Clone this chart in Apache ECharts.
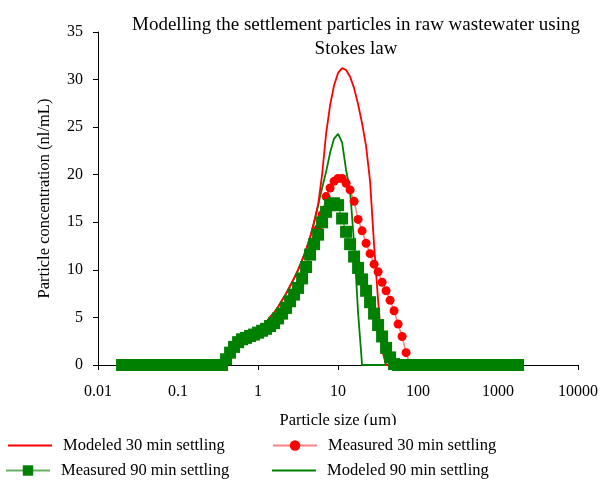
<!DOCTYPE html>
<html>
<head>
<meta charset="utf-8">
<script src="https://cdn.jsdelivr.net/npm/echarts@6/dist/echarts.min.js"></script>
<style>html,body{margin:0;padding:0;background:#fff}#c{width:601px;height:480px}</style>
</head>
<body>
<div id="c"></div>
<script>
// Particle size bins (um)
var sizes = [0.02,0.0224,0.0251,0.0282,0.0317,0.0355,0.0399,0.0448,0.0502,0.0564,
0.0632,0.0710,0.0796,0.0893,0.1002,0.1125,0.1262,0.1416,0.1589,0.1783,
0.2000,0.2244,0.2518,0.2825,0.3170,0.3557,0.3991,0.4477,0.5024,0.5637,
0.6325,0.7096,0.7962,0.8934,1.002,1.125,1.262,1.416,1.589,1.783,
2.000,2.244,2.518,2.825,3.170,3.557,3.991,4.477,5.024,5.637,
6.325,7.096,7.962,8.934,10.02,11.25,12.62,14.16,15.89,17.83,
20.00,22.44,25.18,28.25,31.70,35.57,39.91,44.77,50.24,56.37,
63.25,70.96,79.62,89.34,100.2,112.5,126.2,141.6,158.9,178.3,
200.0,224.4,251.8,282.5,317.0,355.7,399.1,447.7,502.4,563.7,
632.5,709.6,796.2,893.4,1002,1125,1262,1416,1589,1783];

var measured30 = [0,0,0,0,0,0,0,0,0,0, 0,0,0,0,0,0,0,0,0,0, 0,0,0,0,0,0,
0.5,1.1,1.8,2.3,2.6,2.8,3.0,3.2,3.4,3.6,3.8,4.1,4.4,4.9,
5.4,6.0,6.7,7.4,8.2,9.2,10.4,11.7,13.0,14.3,
15.8,17.7,18.6,19.3,19.6,19.6,19.1,18.4,17.2,15.3,
14.1,12.8,11.7,10.6,9.8,8.7,7.8,6.8,5.7,4.3,
3.0,1.3,0,0,0,0,0,0,0,0, 0,0,0,0,0,0,0,0,0,0, 0,0,0,0,0,0,0,0,0,0];

var measured90 = [0,0,0,0,0,0,0,0,0,0, 0,0,0,0,0,0,0,0,0,0, 0,0,0,0,0,0,
0.6,1.3,1.9,2.4,2.7,2.85,3.05,3.2,3.4,3.6,3.8,4.1,4.4,4.9,
5.4,6.0,6.7,7.4,8.1,9.1,10.3,11.6,12.7,13.7,
15.0,16.1,16.8,17.0,16.8,15.4,14.0,12.7,11.4,10.2,
9.0,7.8,6.6,5.4,4.2,3.0,1.8,0.8,0.1,0,
0,0,0,0,0,0,0,0,0,0, 0,0,0,0,0,0,0,0,0,0, 0,0,0,0,0,0,0,0,0,0];

var modeled30 = [0,0,0,0,0,0,0,0,0,0, 0,0,0,0,0,0,0,0,0,0, 0,0,0,0,0,0,
0.6,1.3,1.9,2.3,2.6,2.9,3.1,3.4,3.7,4.1,4.5,5.0,5.5,6.1,
6.8,7.5,8.3,9.1,10.0,11.0,12.1,13.4,15.0,16.8,
20.0,24.3,27.3,29.4,30.7,31.2,31.0,30.3,29.1,27.4,
25.4,23.0,19.3,12.6,6.8,1.6,0,0,0,0,
0,0,0,0,0,0,0,0,0,0, 0,0,0,0,0,0,0,0,0,0, 0,0,0,0,0,0,0,0,0,0];

var modeled90 = [0,0,0,0,0,0,0,0,0,0, 0,0,0,0,0,0,0,0,0,0, 0,0,0,0,0,0,
0.6,1.3,1.9,2.3,2.6,2.9,3.1,3.4,3.7,4.1,4.5,5.0,5.5,6.1,
6.8,7.5,8.3,9.1,10.0,11.0,12.1,13.4,15.0,16.8,
18.6,20.3,22.3,23.8,24.3,23.4,20.5,18.3,12.8,5.5,
0,0,0,0,0,0,0,0,0,0,
0,0,0,0,0,0,0,0,0,0, 0,0,0,0,0,0,0,0,0,0, 0,0,0,0,0,0,0,0,0,0];

var xTickLabels = ['0.01','0.1','1','10','100','1000','10000'];
var yTickLabels = ['0','5','10','15','20','25','30','35'];

var seriesNames = ['Modeled 30 min settling','Measured 30 min settling','Measured 90 min settling','Modeled 90 min settling'];

function pairs(vals){ return sizes.map(function(s,i){ return [s, vals[i]]; }); }

var FONT = "'Liberation Serif','Times New Roman',serif";
var chart = echarts.init(document.getElementById('c'), null, {renderer:'canvas'});

function legendAt(name, left, top, opts){
  var o = {
    data:[name], left:left, top:top, orient:'horizontal', padding:0, z:60,
    itemWidth:44, itemHeight:13, selectedMode:false,
    textStyle:{fontFamily:FONT, fontSize:16.5, color:'#000', padding:[0,0,0,6]}
  };
  for (var k in opts) o[k] = opts[k];
  return o;
}

chart.setOption({
  animation:false,
  backgroundColor:'#fff',
  title:{
    text:'Modelling the settlement particles in raw wastewater using\nStokes law',
    left:356, top:13, padding:0, textAlign:'center',
    textStyle:{fontFamily:FONT, fontSize:19, fontWeight:'normal', color:'#000', lineHeight:24}
  },
  grid:{left:98, right:23, top:32, bottom:115, containLabel:false},
  xAxis:{
    type:'log', logBase:10, min:0.01, max:10000,
    name:'Particle size (\u03bcm)', nameLocation:'middle', nameGap:47,
    nameTextStyle:{fontFamily:FONT, fontSize:16.5, color:'#000'},
    axisLine:{lineStyle:{color:'#000', width:1}},
    axisTick:{show:true, inside:false, length:5, lineStyle:{color:'#000'}},
    minorTick:{show:false},
    splitLine:{show:false},
    axisLabel:{fontFamily:FONT, fontSize:16, color:'#000', margin:19,
      formatter:function(v){ return xTickLabels[Math.round(Math.log10(v))+2]; }}
  },
  yAxis:{
    type:'value', min:0, max:35, interval:5,
    name:'Particle concentration (nl/mL)', nameLocation:'middle', nameGap:45, nameRotate:90,
    nameTextStyle:{fontFamily:FONT, fontSize:16.5, color:'#000'},
    axisLine:{show:true, lineStyle:{color:'#000', width:1}},
    axisTick:{show:true, inside:false, length:5, lineStyle:{color:'#000'}},
    splitLine:{show:false},
    axisLabel:{fontFamily:FONT, fontSize:16, color:'#000', margin:15,
      formatter:function(v){ return yTickLabels[Math.round(v/5)]; }}
  },
  legend:[
    legendAt(seriesNames[0], 8, 437, {icon:'rect', itemHeight:2, itemWidth:44}),
    legendAt(seriesNames[1], 272, 437, {}),
    legendAt(seriesNames[2], 5, 462, {}),
    legendAt(seriesNames[3], 272, 462, {icon:'rect', itemHeight:2, itemWidth:44})
  ],
  graphic:[{type:'rect', z:50, shape:{x:0, y:425, width:601, height:55}, style:{fill:'#fff'}}],
  series:[
    {name:seriesNames[1], type:'line', data:pairs(measured30),
      symbol:'circle', symbolSize:9, showSymbol:true,
      itemStyle:{color:'#ff0000'}, lineStyle:{color:'#ff8080', width:1.5}},
    {name:seriesNames[2], type:'line', data:pairs(measured90),
      symbol:'rect', symbolSize:12, showSymbol:true,
      itemStyle:{color:'#008000'}, lineStyle:{color:'#66b366', width:1.5}},
    {name:seriesNames[3], type:'line', data:pairs(modeled90),
      symbol:'none', itemStyle:{color:'#008000'}, lineStyle:{color:'#008000', width:1.8}},
    {name:seriesNames[0], type:'line', data:pairs(modeled30),
      symbol:'none', itemStyle:{color:'#ff0000'}, lineStyle:{color:'#ff0000', width:1.8}}
  ]
});
</script>
</body>
</html>
